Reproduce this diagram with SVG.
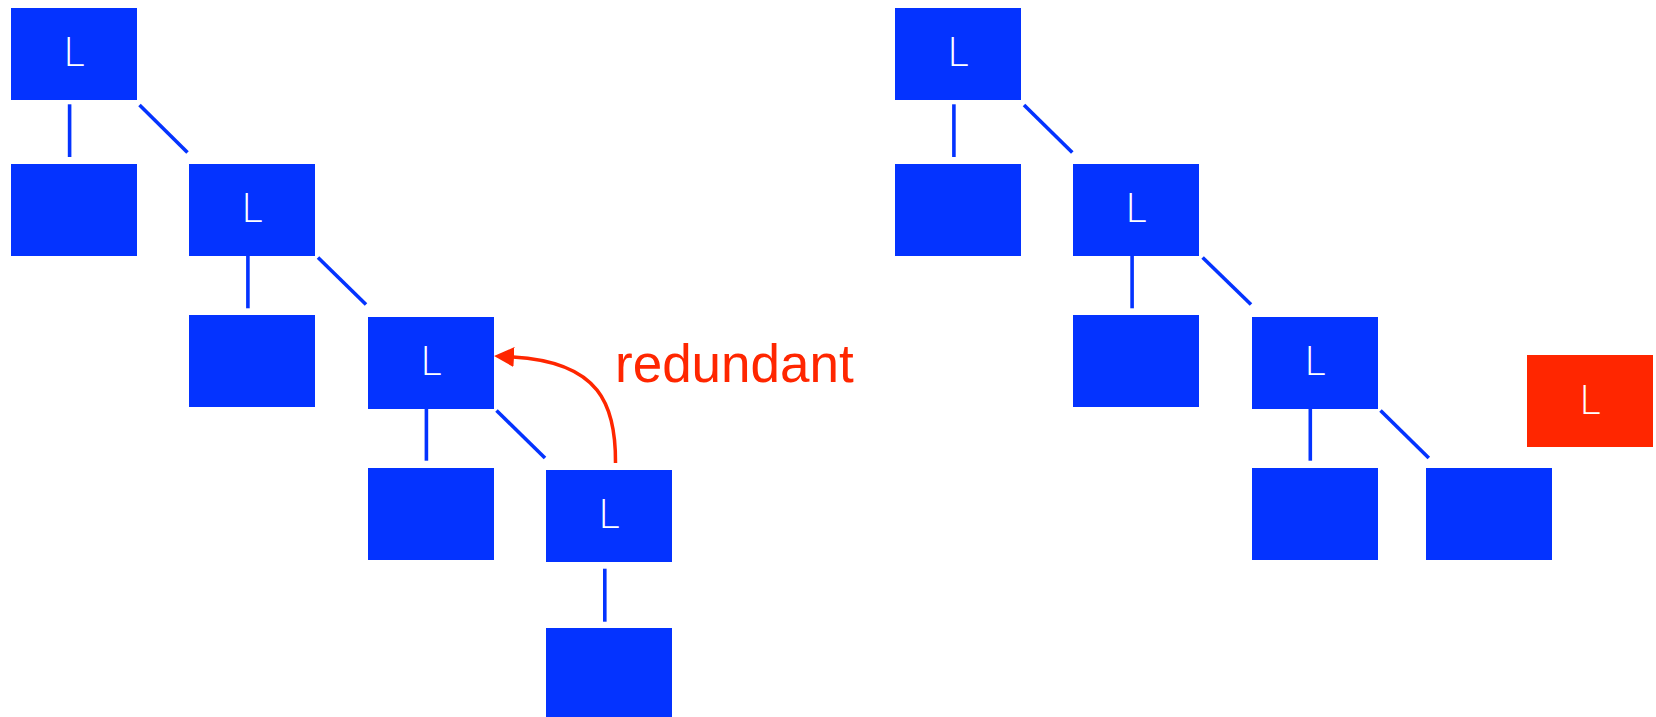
<svg xmlns="http://www.w3.org/2000/svg" width="1656" height="717" viewBox="0 0 1656 717">
  <style>
    .box { fill: #0433FF; }
    .hot { fill: #FF2600; }
    .lbl { fill: #FFFFFF; font-family: "Open Sans", "Liberation Sans", sans-serif; font-weight: 300; font-size: 41px; text-anchor: middle; }
    .edge { stroke: #0433FF; stroke-width: 3.6; fill: none; stroke-linecap: butt; }
    .note { fill: #FF2600; font-family: "Liberation Sans", Arial, sans-serif; font-size: 53px; }
    .back { stroke: #FF2600; stroke-width: 3.5; fill: none; }
  </style>
  <defs>
    <marker id="head" viewBox="0 0 20 20" markerWidth="20" markerHeight="20" markerUnits="userSpaceOnUse" refX="1" refY="10" orient="auto">
      <path d="M0,0 L20,10 L0,20 z" fill="#FF2600"/>
    </marker>
  </defs>
  <rect width="1656" height="717" fill="#FFFFFF"/>

  <!-- tree edges -->
  <g id="connectors">
    <!-- left tree -->
    <line class="edge" x1="69.6" y1="104.3" x2="69.6" y2="157"/>
    <line class="edge" x1="139.5" y1="105" x2="187.5" y2="152.5"/>
    <line class="edge" x1="247.9" y1="256" x2="247.9" y2="308.3"/>
    <line class="edge" x1="318" y1="257.5" x2="366" y2="304.5"/>
    <line class="edge" x1="426.4" y1="408.7" x2="426.4" y2="460.7"/>
    <line class="edge" x1="496.5" y1="410.5" x2="545" y2="458"/>
    <line class="edge" x1="604.8" y1="568.7" x2="604.8" y2="621.7"/>
    <!-- right tree -->
    <line class="edge" x1="953.9" y1="104.3" x2="953.9" y2="157"/>
    <line class="edge" x1="1024" y1="105" x2="1072.3" y2="152.5"/>
    <line class="edge" x1="1132.1" y1="256" x2="1132.1" y2="308.3"/>
    <line class="edge" x1="1202.6" y1="257.5" x2="1251" y2="304.5"/>
    <line class="edge" x1="1310.3" y1="408.7" x2="1310.3" y2="460.7"/>
    <line class="edge" x1="1380.5" y1="410.5" x2="1428.8" y2="458"/>
    <!-- back pointer -->
    <path class="back" d="M615.5,463 C616,405 600,362 513,357" marker-end="url(#head)"/>
  </g>

  <!-- left tree -->
  <g id="l-a"><rect class="box" x="11" y="8" width="126" height="92"/><text class="lbl" x="74" y="66">L</text></g>
  <g id="l-b"><rect class="box" x="11" y="164" width="126" height="92"/></g>
  <g id="l-c"><rect class="box" x="189" y="164" width="126" height="92"/><text class="lbl" x="252" y="222">L</text></g>
  <g id="l-d"><rect class="box" x="189" y="315" width="126" height="92"/></g>
  <g id="l-e"><rect class="box" x="368" y="317" width="126" height="92"/><text class="lbl" x="431" y="375">L</text></g>
  <g id="l-f"><rect class="box" x="368" y="468" width="126" height="92"/></g>
  <g id="l-g"><rect class="box" x="546" y="470" width="126" height="92"/><text class="lbl" x="609" y="528">L</text></g>
  <g id="l-h"><rect class="box" x="546" y="628" width="126" height="92"/></g>
  <g id="note"><text class="note" x="615" y="381.7">redundant</text></g>

  <!-- right tree -->
  <g id="r-a"><rect class="box" x="895" y="8" width="126" height="92"/><text class="lbl" x="958" y="66">L</text></g>
  <g id="r-b"><rect class="box" x="895" y="164" width="126" height="92"/></g>
  <g id="r-c"><rect class="box" x="1073" y="164" width="126" height="92"/><text class="lbl" x="1136" y="222">L</text></g>
  <g id="r-d"><rect class="box" x="1073" y="315" width="126" height="92"/></g>
  <g id="r-e"><rect class="box" x="1252" y="317" width="126" height="92"/><text class="lbl" x="1315" y="375">L</text></g>
  <g id="r-f"><rect class="box" x="1252" y="468" width="126" height="92"/></g>
  <g id="r-g"><rect class="box" x="1426" y="468" width="126" height="92"/></g>
  <g id="r-x"><rect class="hot" x="1527" y="355" width="126" height="92"/><text class="lbl" x="1590" y="414">L</text></g>
</svg>
